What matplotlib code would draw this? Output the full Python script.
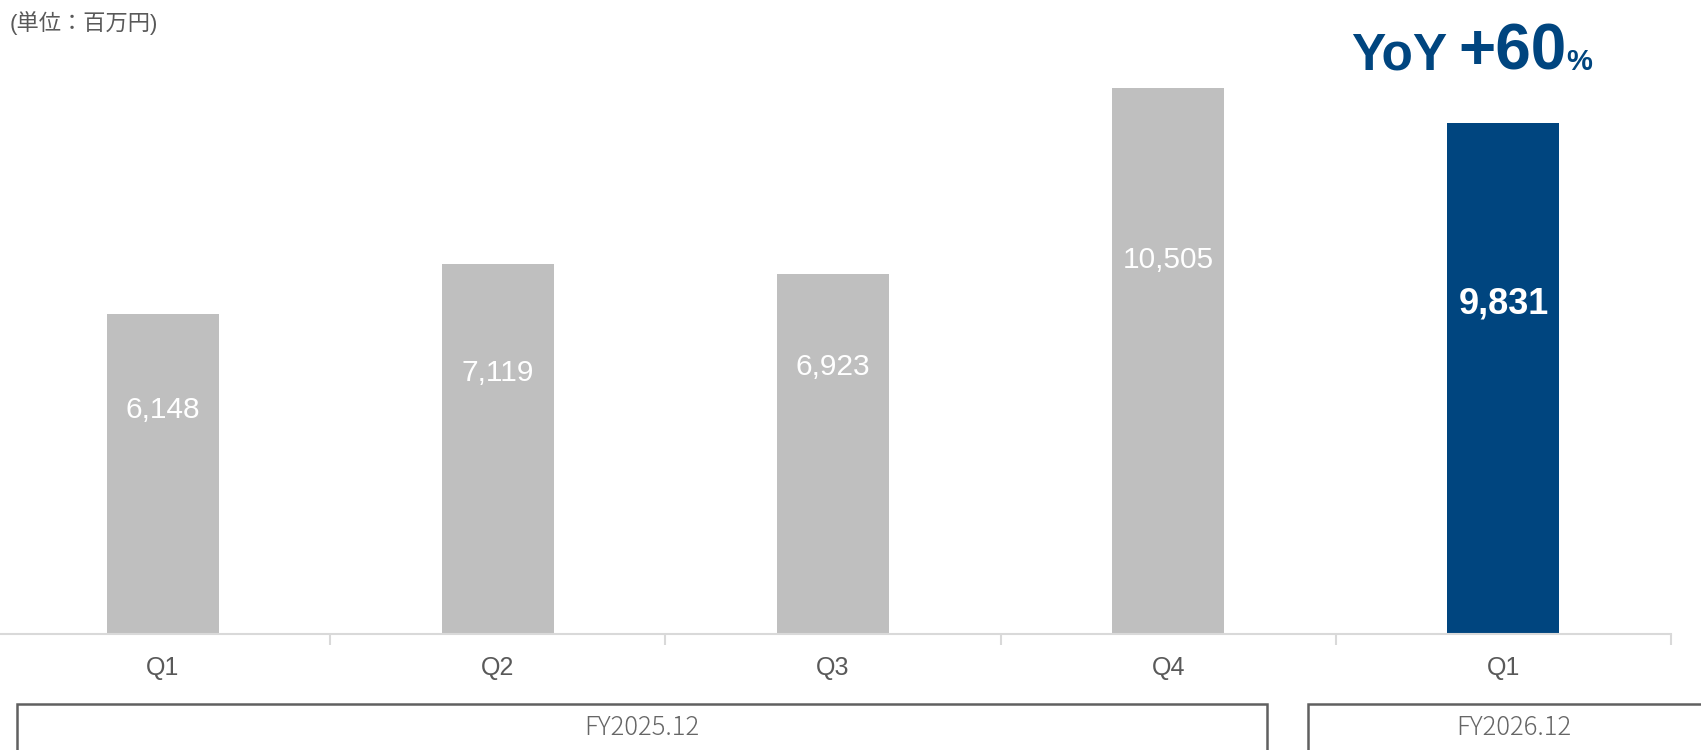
import matplotlib
matplotlib.use("Agg")
import matplotlib.pyplot as plt
from matplotlib.patches import Rectangle

plt.rcParams['font.family'] = ['Liberation Sans', 'Noto Sans CJK JP', 'DejaVu Sans']

# Quarterly figures (million yen)
quarters = ["Q1", "Q2", "Q3", "Q4", "Q1"]
values = [6148, 7119, 6923, 10505, 9831]
value_labels = ["6,148", "7,119", "6,923", "10,505", "9,831"]
fiscal_years = ["FY2025.12", "FY2026.12"]
yoy_number = "+60"
unit_label = "(単位：百万円)"

GRAY = "#BFBFBF"
NAVY = "#00457F"
TEXT_GRAY = "#595959"

W, H, DPI = 1701, 750, 100
fig = plt.figure(figsize=(W / DPI, H / DPI), dpi=DPI)

def fx(px):
    return px / W

def fy(py):
    return 1 - py / H

# plot area: baseline at 633.5 px, categories spaced 335 px starting at -5 px
ax_left, ax_right = -5, 1671
ax_bottom, ax_top = 633.5, 0
ax = fig.add_axes([fx(ax_left), fy(ax_bottom), fx(ax_right - ax_left), (ax_bottom - ax_top) / H])

n = len(values)
x = list(range(n))
colors = [GRAY] * (n - 1) + [NAVY]
ax.bar(x, values, width=0.334, color=colors, zorder=2)
ax.set_xlim(-0.5, n - 0.5)
ax.set_ylim(0, 12190)

# value labels inside the bars (fraction of bar height)
label_frac = [0.70, 0.705, 0.74, 0.685, 0.645]
for i, (v, s) in enumerate(zip(values, value_labels)):
    if i == n - 1:
        ax.text(i, v * label_frac[i], s, ha='center', va='center', color='white',
                fontsize=26, fontweight='bold')
    else:
        ax.text(i, v * label_frac[i], s, ha='center', va='center', color='white',
                fontsize=21.5)

for side in ['top', 'right', 'left']:
    ax.spines[side].set_visible(False)
ax.spines['bottom'].set_color('#D9D9D9')
ax.spines['bottom'].set_linewidth(1.5)
ax.set_yticks([])

# category labels and boundary ticks
ax.set_xticks(x)
ax.set_xticklabels(quarters, fontsize=18, color=TEXT_GRAY)
ax.tick_params(axis='x', length=0, pad=16)
ax.set_xticks([i + 0.5 for i in range(n)], minor=True)
ax.tick_params(axis='x', which='minor', length=8, width=1.5, color='#D9D9D9')

# fiscal-year boxes
boxes = [(17, 1267), (1308, 1720)]
for (x0, x1), label in zip(boxes, fiscal_years):
    rect = Rectangle((fx(x0), fy(760)), fx(x1 - x0), (760 - 704) / H,
                     transform=fig.transFigure, fill=False, edgecolor='#606060',
                     linewidth=1.8, clip_on=False)
    fig.patches.append(rect)
    fig.text(fx((x0 + x1) / 2), fy(728), label, ha='center', va='center',
             fontsize=18.5, color='#666666', fontweight='light',
             family=['Noto Sans CJK JP', 'DejaVu Sans'])

# unit note
fig.text(fx(10), fy(23), unit_label, ha='left', va='center', fontsize=16,
         color=TEXT_GRAY, family=['Liberation Sans', 'Noto Sans CJK JP'])

# YoY growth headline
base = fy(70)
fig.text(fx(1351), base, "YoY", ha='left', va='baseline', fontsize=37,
         fontweight='bold', color=NAVY)
fig.text(fx(1458), base, yoy_number, ha='left', va='baseline', fontsize=46,
         fontweight='bold', color=NAVY)
fig.text(fx(1566), base, "%", ha='left', va='baseline', fontsize=21,
         fontweight='bold', color=NAVY)

fig.savefig("out.png", dpi=DPI)
